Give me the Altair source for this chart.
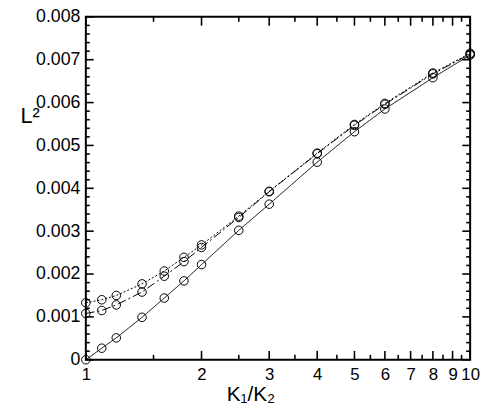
import altair as alt
import pandas as pd

# ---- data ----
ratio = [1, 1.1, 1.2, 1.4, 1.6, 1.8, 2, 2.5, 3, 4, 5, 6, 8, 10]
solid = [0.0, 0.00027, 0.00051, 0.00099, 0.00144, 0.00184, 0.00222, 0.00302,
         0.00363, 0.00461, 0.00532, 0.00585, 0.00658, 0.00711]
dashdot = [0.00108, 0.00115, 0.00128, 0.00158, 0.00195, 0.00229, 0.00262, 0.00332,
           0.00392, 0.00481, 0.00547, 0.00596, 0.00667, 0.00713]
dotted = [0.00133, 0.00140, 0.00150, 0.00177, 0.00207, 0.00239, 0.00268, 0.00335,
          0.00393, 0.00482, 0.00549, 0.00598, 0.00669, 0.00715]
series_names = ["solid", "dashdot", "dotted"]

x_major = [1, 2, 3, 4, 5, 6, 7, 8, 9, 10]
x_minor = [1.5, 2.5, 3.5, 4.5, 5.5, 6.5, 7.5, 8.5, 9.5]
y_major = [0, 0.001, 0.002, 0.003, 0.004, 0.005, 0.006, 0.007, 0.008]
y_minor = [round(m + k * 0.0002, 4) for m in y_major[:-1] for k in (1, 2, 3, 4)]

rows = []
for name, vals in zip(series_names, [solid, dashdot, dotted]):
    for xv, yv in zip(ratio, vals):
        rows.append({"x": xv, "y": yv, "s": name})
df = pd.DataFrame(rows)

W, H = 390, 348
FONT = "Liberation Sans"
X0, X1 = 1, 10
Y0, Y1 = 0, 0.008

xscale = alt.Scale(type="log", domain=[X0, X1], nice=False)
yscale = alt.Scale(domain=[Y0, Y1], nice=False, zero=False)
dash_scale = alt.Scale(domain=series_names, range=[[1, 0], [9, 3, 2, 3], [2, 2]])

xaxis = alt.Axis(values=x_major, format="d", ticks=False, domain=False, grid=False,
                 labelFont=FONT, labelFontSize=17, labelColor="black", labelPadding=7,
                 labelFlush=False, labelOverlap=False,
                 title="K\u2081/K\u2082", titleFont=FONT, titleFontSize=21,
                 titleFontWeight="normal", titleColor="black", titleBaseline="middle",
                 titleAlign="center", titleX=167, titleY=35)
yaxis = alt.Axis(values=y_major, ticks=False, domain=False, grid=False,
                 labelExpr="datum.value == 0 ? '0' : format(datum.value, '.3f')",
                 labelFont=FONT, labelFontSize=18, labelColor="black", labelPadding=6,
                 labelFlush=False,
                 title="L\u00b2", titleFont=FONT, titleFontSize=22, titleFontWeight="normal",
                 titleColor="black", titleAngle=0, titleAlign="center",
                 titleBaseline="middle", titleX=-57, titleY=100)

# inward tick segments: tick length in px converted to the scales' own units
def xlen(px):      # log axis: fraction of a decade
    return 10 ** (px / W)


def ylen(px):
    return (Y1 - Y0) * px / H


tick_rows = []
for vals, px in ((y_major, 8), (y_minor, 4)):
    for v in vals:
        tick_rows.append({"a": X0, "a2": X0 * xlen(px), "b": v, "b2": v})
        tick_rows.append({"a": X1 / xlen(px), "a2": X1, "b": v, "b2": v})
for vals, px in ((x_major, 9), (x_minor, 5)):
    for v in vals:
        tick_rows.append({"a": v, "a2": v, "b": Y0, "b2": Y0 + ylen(px)})
        tick_rows.append({"a": v, "a2": v, "b": Y1 - ylen(px), "b2": Y1})
ticks_df = pd.DataFrame(tick_rows)

ticks = alt.Chart(ticks_df).mark_rule(color="black", strokeWidth=1.6).encode(
    x=alt.X("a:Q", scale=xscale, axis=xaxis), x2="a2:Q",
    y=alt.Y("b:Q", scale=yscale, axis=yaxis), y2="b2:Q",
)

base = alt.Chart(df)
lines = base.mark_line(color="black", strokeWidth=1).encode(
    x=alt.X("x:Q", scale=xscale, axis=xaxis), y=alt.Y("y:Q", scale=yscale, axis=yaxis),
    strokeDash=alt.StrokeDash("s:N", scale=dash_scale, legend=None),
    detail="s:N",
)
points = base.mark_point(shape="circle", filled=False, color="black", size=75,
                         strokeWidth=1, opacity=1).encode(
    x=alt.X("x:Q", scale=xscale, axis=xaxis), y=alt.Y("y:Q", scale=yscale, axis=yaxis))

chart = alt.layer(lines, points, ticks).properties(
    width=W, height=H,
    background="white",
    autosize=alt.AutoSizeParams(type="none"),
    padding={"left": 79, "top": 6, "right": 10, "bottom": 48},
).configure_view(stroke="black", strokeWidth=2)

chart.save("out.html", embed_options={"renderer": "svg", "actions": False})
